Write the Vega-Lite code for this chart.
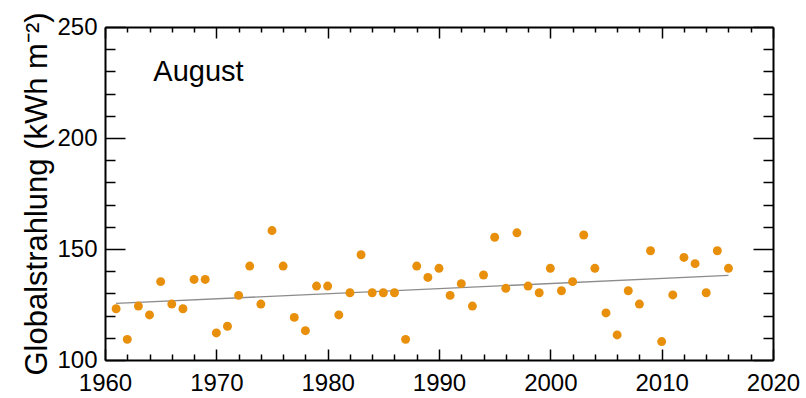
{
  "$schema": "https://vega.github.io/schema/vega-lite/v6.json",
  "width": 668,
  "height": 333,
  "autosize": "none",
  "padding": {"left": 105, "top": 27, "right": 33, "bottom": 38},
  "config": {"view": {"stroke": null}, "font": "Liberation Sans"},
  "layer": [
    {
      "data": {"values": [{"year": 1961, "value": 125.5}, {"year": 2016, "value": 138.1}]},
      "mark": {"type": "line", "color": "#8c8c8c", "strokeWidth": 1.3},
      "encoding": {
        "x": {"field": "year", "type": "quantitative", "scale": {"domain": [1960, 2020], "nice": false, "zero": false},
          "axis": {"orient": "top", "values": [1960,1962,1964,1966,1968,1970,1972,1974,1976,1978,1980,1982,1984,1986,1988,1990,1992,1994,1996,1998,2000,2002,2004,2006,2008,2010,2012,2014,2016,2018,2020],
            "labels": false, "title": null, "grid": false, "domainColor": "black", "domainWidth": 2, "tickColor": "black", "tickWidth": 1.5,
            "tickSize": {"condition": {"test": "datum.value % 10 === 0", "value": -11}, "value": -5}}},
        "y": {"field": "value", "type": "quantitative", "scale": {"domain": [100, 250], "nice": false, "zero": false},
          "axis": {"orient": "right", "values": [100,110,120,130,140,150,160,170,180,190,200,210,220,230,240,250],
            "labels": false, "title": null, "grid": false, "domainColor": "black", "domainWidth": 2, "tickColor": "black", "tickWidth": 1.5,
            "tickSize": {"condition": {"test": "datum.value % 50 === 0", "value": -20}, "value": -10}}}
      }
    },
    {
      "data": {"values": [
        {"year": 1961, "value": 123.1}, {"year": 1962, "value": 109.3}, {"year": 1963, "value": 124.3}, {"year": 1964, "value": 120.3},
        {"year": 1965, "value": 135.3}, {"year": 1966, "value": 125.2}, {"year": 1967, "value": 123.1}, {"year": 1968, "value": 136.3},
        {"year": 1969, "value": 136.3}, {"year": 1970, "value": 112.2}, {"year": 1971, "value": 115.2}, {"year": 1972, "value": 129.1},
        {"year": 1973, "value": 142.3}, {"year": 1974, "value": 125.2}, {"year": 1975, "value": 158.3}, {"year": 1976, "value": 142.3},
        {"year": 1977, "value": 119.2}, {"year": 1978, "value": 113.2}, {"year": 1979, "value": 133.3}, {"year": 1980, "value": 133.3},
        {"year": 1981, "value": 120.3}, {"year": 1982, "value": 130.3}, {"year": 1983, "value": 147.4}, {"year": 1984, "value": 130.3},
        {"year": 1985, "value": 130.3}, {"year": 1986, "value": 130.3}, {"year": 1987, "value": 109.3}, {"year": 1988, "value": 142.3},
        {"year": 1989, "value": 137.2}, {"year": 1990, "value": 141.3}, {"year": 1991, "value": 129.1}, {"year": 1992, "value": 134.4},
        {"year": 1993, "value": 124.3}, {"year": 1994, "value": 138.3}, {"year": 1995, "value": 155.3}, {"year": 1996, "value": 132.3},
        {"year": 1997, "value": 157.3}, {"year": 1998, "value": 133.3}, {"year": 1999, "value": 130.3}, {"year": 2000, "value": 141.3},
        {"year": 2001, "value": 131.2}, {"year": 2002, "value": 135.3}, {"year": 2003, "value": 156.3}, {"year": 2004, "value": 141.3},
        {"year": 2005, "value": 121.2}, {"year": 2006, "value": 111.3}, {"year": 2007, "value": 131.2}, {"year": 2008, "value": 125.2},
        {"year": 2009, "value": 149.2}, {"year": 2010, "value": 108.3}, {"year": 2011, "value": 129.3}, {"year": 2012, "value": 146.2},
        {"year": 2013, "value": 143.4}, {"year": 2014, "value": 130.3}, {"year": 2015, "value": 149.2}, {"year": 2016, "value": 141.3}
      ]},
      "mark": {"type": "circle", "size": 80, "color": "#e88f0c", "opacity": 1},
      "encoding": {
        "x": {"field": "year", "type": "quantitative",
          "axis": {"orient": "bottom", "values": [1960,1962,1964,1966,1968,1970,1972,1974,1976,1978,1980,1982,1984,1986,1988,1990,1992,1994,1996,1998,2000,2002,2004,2006,2008,2010,2012,2014,2016,2018,2020],
            "format": "d", "labelExpr": "datum.value % 10 === 0 ? datum.label : ''",
            "labelFontSize": 24, "labelColor": "black", "labelPadding": 22, "labelFlush": false, "labelOverlap": false,
            "title": null, "grid": false, "domainColor": "black", "domainWidth": 2, "tickColor": "black", "tickWidth": 1.5,
            "tickSize": {"condition": {"test": "datum.value % 10 === 0", "value": -11}, "value": -6}}},
        "y": {"field": "value", "type": "quantitative",
          "axis": {"orient": "left", "values": [100,110,120,130,140,150,160,170,180,190,200,210,220,230,240,250],
            "labelExpr": "datum.value % 50 === 0 ? datum.label : ''",
            "labelFontSize": 24, "labelColor": "black", "labelPadding": 28, "labelFlush": false, "labelOverlap": false,
            "title": "Globalstrahlung (kWh m⁻²)", "titleFontSize": 31, "titleFontWeight": "normal", "titleColor": "black", "titlePadding": 3,
            "grid": false, "domainColor": "black", "domainWidth": 2, "tickColor": "black", "tickWidth": 1.5,
            "tickSize": {"condition": {"test": "datum.value % 50 === 0", "value": -20}, "value": -10}}}
      }
    },
    {
      "data": {"values": [{"year": 1964.34, "value": 225.8, "label": "August"}]},
      "mark": {"type": "text", "align": "left", "baseline": "alphabetic", "fontSize": 29, "color": "black"},
      "encoding": {
        "x": {"field": "year", "type": "quantitative", "axis": null},
        "y": {"field": "value", "type": "quantitative", "axis": null},
        "text": {"field": "label"}
      }
    }
  ],
  "resolve": {"axis": {"x": "independent", "y": "independent"}}
}
